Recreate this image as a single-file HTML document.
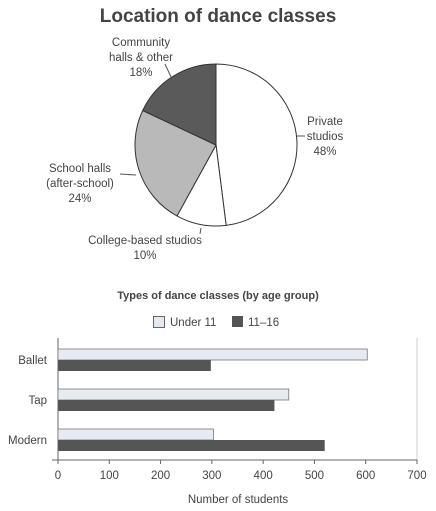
<!DOCTYPE html>
<html><head><meta charset="utf-8"><style>
body{margin:0;background:#fff;font-family:"Liberation Sans",sans-serif;}
svg{display:block}
text{fill:#444;font-family:"Liberation Sans",sans-serif}
</style></head><body>
<svg id="c" width="436" height="511">
<text x="218" y="22" text-anchor="middle" font-size="19" font-weight="bold" fill="#555">Location of dance classes</text>
<g id="pie"></g>
<text x="218" y="299" text-anchor="middle" font-size="11" font-weight="bold">Types of dance classes (by age group)</text>
<g>
<rect x="153.5" y="316.5" width="11" height="11" fill="#e4e8ef" stroke="#666"/>
<text x="170" y="326" font-size="11.5">Under 11</text>
<rect x="232" y="316" width="11" height="11" fill="#555"/>
<text x="248" y="326" font-size="11.5">11–16</text>
</g>
<g id="bars"></g>
<text x="238" y="503" text-anchor="middle" font-size="11.5">Number of students</text>
</svg>
<script>
const pieLabels=["Private studios","College-based studios","School halls (after-school)","Community halls & other"];
const pieValues=[48,10,24,18];
const categories=["Ballet","Tap","Modern"];
const under11=[603,450,303];
const age11to16=[298,422,520];
const ticks=[0,100,200,300,400,500,600,700];
const NS="http://www.w3.org/2000/svg";
function mk(p,t,a){const e=document.createElementNS(NS,t);for(const k in a)e.setAttribute(k,a[k]);p.appendChild(e);return e;}
// pie
const pie=document.getElementById('pie');
const cx=216,cy=145,r=81;const fills=["#ffffff","#ffffff","#b9b9b9","#5a5a5a"];
const tot=pieValues.reduce((a,b)=>a+b,0);let a0=0;
pieValues.forEach((v,i)=>{const a1=a0+v/tot*2*Math.PI;
const x0=cx+r*Math.sin(a0),y0=cy-r*Math.cos(a0),x1=cx+r*Math.sin(a1),y1=cy-r*Math.cos(a1);
const p=mk(pie,'path',{d:`M${cx},${cy}L${x0},${y0}A${r},${r} 0 ${a1-a0>Math.PI?1:0} 1 ${x1},${y1}Z`,fill:fills[i],stroke:'#333','stroke-width':1});


a0=a1;});
const lbl=[[[325,125,"Private"],[325,140,"studios"],[325,155,pieValues[0]+"%"]],[[145,244,"College-based studios"],[145,259,pieValues[1]+"%"]],[[80,172,"School halls"],[80,187,"(after-school)"],[80,202,pieValues[2]+"%"]],[[141,46,"Community"],[141,61,"halls & other"],[141,76,pieValues[3]+"%"]]];
lbl.forEach((ls,i)=>ls.forEach(l=>{const t=mk(pie,'text',{x:l[0],y:l[1],'text-anchor':'middle','font-size':11.5});t.textContent=l[2];

}));
mk(pie,'line',{x1:297,y1:136,x2:305,y2:136,stroke:'#555'});
mk(pie,'line',{x1:201,y1:228,x2:200,y2:234,stroke:'#555'});
mk(pie,'line',{x1:120,y1:174,x2:136,y2:175,stroke:'#555'});
mk(pie,'line',{x1:165,y1:64,x2:171,y2:77,stroke:'#555'});
// bars
const g=document.getElementById('bars');
const X=v=>58+v*(417-58)/700;
mk(g,'line',{x1:417,y1:338,x2:417,y2:460,stroke:'#ccc'});
mk(g,'line',{x1:58,y1:338,x2:58,y2:460,stroke:'#666'});
mk(g,'line',{x1:52,y1:460,x2:417,y2:460,stroke:'#666'});
ticks.forEach(t=>{mk(g,'line',{x1:X(t),y1:460,x2:X(t),y2:464,stroke:'#666'});
const tx=mk(g,'text',{x:X(t),y:479,'text-anchor':'middle','font-size':11.5});tx.textContent=t;

});
categories.forEach((c,i)=>{const y=349+i*40;
const b1=mk(g,'rect',{x:X(0),y:y,width:X(under11[i])-X(0),height:11,fill:'#e6eaf1',stroke:'#777','stroke-width':0.8});


const b2=mk(g,'rect',{x:X(0),y:y+11,width:X(age11to16[i])-X(0),height:11,fill:'#555'});


const t=mk(g,'text',{x:47,y:y+15,'text-anchor':'end','font-size':11.5});t.textContent=c;

});
</script>
</body></html>
